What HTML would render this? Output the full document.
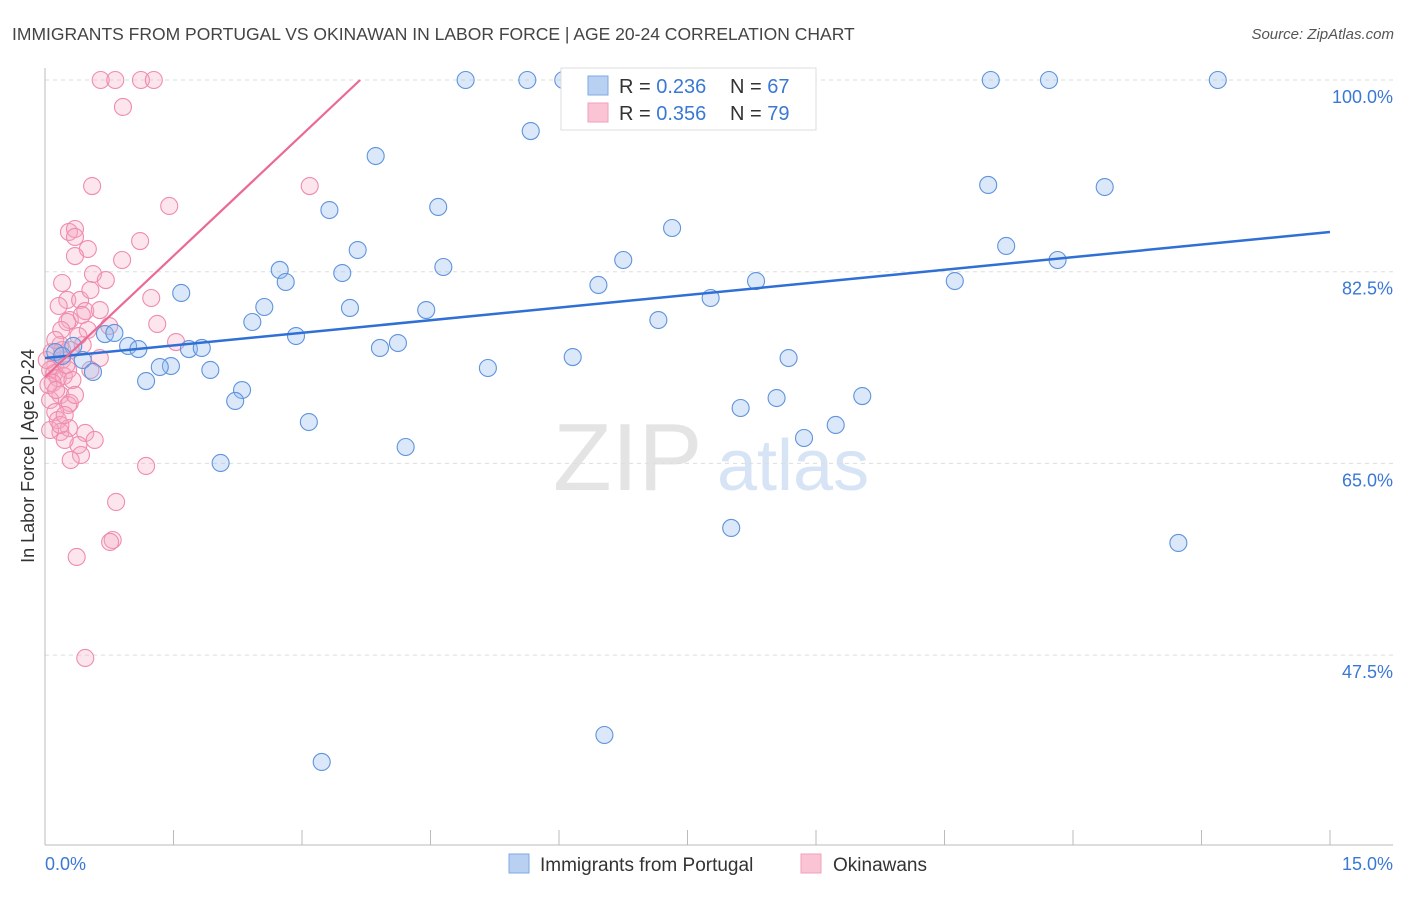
<!DOCTYPE html>
<html><head><meta charset="utf-8"><style>
body{margin:0;background:#fff;font-family:"Liberation Sans",sans-serif}
svg text{font-family:"Liberation Sans",sans-serif}
</style></head><body>
<svg id="chart" width="1406" height="892" xmlns="http://www.w3.org/2000/svg">
<text x="12" y="40" font-size="17.5" fill="#444">IMMIGRANTS FROM PORTUGAL VS OKINAWAN IN LABOR FORCE | AGE 20-24 CORRELATION CHART</text>
<text x="1394" y="39" font-size="15" fill="#555" font-style="italic" text-anchor="end">Source: ZipAtlas.com</text>
<g>
<text x="553" y="490" font-size="96" font-family="Liberation Serif" fill="#e4e4e4">ZIP</text>
<text x="717" y="490" font-size="72" fill="#d6e4f5">atlas</text>
</g>
<g id="grid"></g>
<line x1="45" y1="68" x2="45" y2="845" stroke="#bbb"/>
<line x1="45" y1="845" x2="1393" y2="845" stroke="#bbb"/>
<g id="xticks"></g>
<text transform="translate(34,456) rotate(-90)" font-size="18" fill="#333" text-anchor="middle">In Labor Force | Age 20-24</text>
<text x="45" y="870" font-size="18" fill="#3a78d4">0.0%</text>
<text x="1393" y="870" font-size="18" fill="#3a78d4" text-anchor="end">15.0%</text>
<g id="pts"></g>
<g id="lines"></g>
<g>
<rect x="561" y="68" width="255" height="62" fill="#fff" stroke="#ddd"/>
<rect x="588" y="76" width="20" height="19" fill="#b8d0f2" stroke="#7fa8e0"/>
<text x="619" y="93" font-size="20" fill="#333">R = <tspan fill="#3a78d4">0.236</tspan></text>
<text x="730" y="93" font-size="20" fill="#333">N = <tspan fill="#3a78d4">67</tspan></text>
<rect x="588" y="103" width="20" height="19" fill="#fbc4d4" stroke="#f0a0b8"/>
<text x="619" y="120" font-size="20" fill="#333">R = <tspan fill="#3a78d4">0.356</tspan></text>
<text x="730" y="120" font-size="20" fill="#333">N = <tspan fill="#3a78d4">79</tspan></text>
</g>
<g>
<rect x="509" y="854" width="20" height="19" fill="#b8d0f2" stroke="#7fa8e0"/>
<text x="540" y="871" font-size="19" fill="#333">Immigrants from Portugal</text>
<rect x="801" y="854" width="20" height="19" fill="#fbc4d4" stroke="#f0a0b8"/>
<text x="833" y="871" font-size="19" fill="#333">Okinawans</text>
</g>
</svg>
<script>
const yTicks=[100,82.5,65,47.5];
const yTickLabels=["100.0%","82.5%","65.0%","47.5%"];
const blueX=[4.91,5.63,6.05,6.98,11.04,11.72,13.69,5.67,3.86,11.01,12.37,3.32,4.59,7.32,3.65,11.22,2.74,3.47,4.65,6.75,2.81,11.82,8.30,10.62,6.46,1.59,2.56,3.56,4.45,7.77,2.42,7.16,0.70,0.81,2.93,0.97,1.09,1.68,1.83,3.91,4.12,6.16,8.68,0.33,0.44,1.47,1.34,0.56,1.93,5.17,1.18,2.30,2.22,9.54,8.54,8.12,3.08,9.23,8.86,4.21,2.05,8.01,13.23,6.53,3.23,0.12,0.20];
const blueY=[100,100,100,100,100,100,100,95.34,93.06,90.42,90.23,88.13,88.41,86.49,84.48,84.85,82.66,82.38,82.93,83.57,81.56,83.57,81.65,81.65,81.29,80.56,79.28,79.19,79.00,80.10,77.91,78.09,76.81,76.91,76.63,75.72,75.44,75.44,75.54,75.54,75.99,74.71,74.62,75.72,74.44,73.89,73.80,73.35,73.53,73.71,72.52,71.70,70.70,71.15,70.97,70.06,68.78,68.51,67.32,66.50,65.04,59.11,57.74,40.21,37.75,75.17,74.81];
const pinkX=[0.65,0.82,1.12,1.27,0.91,0.55,3.09,1.45,0.28,0.35,0.35,0.50,1.11,0.35,0.90,0.56,0.20,0.71,0.26,0.41,1.24,0.16,0.47,0.29,0.26,1.31,0.75,0.50,0.19,1.53,0.18,0.44,0.30,0.64,0.12,0.20,0.06,0.11,0.27,0.15,0.53,0.22,0.09,0.18,0.29,0.06,0.27,0.12,0.15,0.47,0.28,0.18,0.58,0.39,0.42,0.30,1.18,0.83,0.79,0.76,0.37,0.47,0.08,0.04,0.13,0.20,0.25,0.32,0.39,0.06,0.23,0.18,0.43,0.53,0.64,0.12,0.02,0.35,0.23];
const pinkY=[100,100,100,100,97.54,90.32,90.32,88.50,86.13,86.40,85.67,84.57,85.30,83.93,83.57,82.29,81.47,81.74,79.92,79.92,80.10,79.37,78.91,78.09,77.91,77.73,77.54,77.18,77.18,76.08,75.81,75.81,75.35,74.62,73.98,74.44,73.53,73.25,73.53,72.80,73.53,72.98,72.34,71.25,70.52,70.79,70.33,69.69,68.96,67.78,68.23,67.87,67.14,66.68,65.77,65.31,64.77,61.48,58.01,57.83,56.46,47.24,75.17,72.16,71.70,75.35,73.98,72.61,76.63,68.05,67.14,68.51,78.55,80.83,79.00,76.27,74.44,71.25,69.42];
const blueTrend=[74.62,86.13];
const pinkTrend=[72.89,7.37];
const NS="http://www.w3.org/2000/svg";
const sx=v=>45+v/15*1285;
const sy=v=>80+(100-v)*10.955;
function mk(t,a,p){const e=document.createElementNS(NS,t);for(const k in a)e.setAttribute(k,a[k]);p.appendChild(e);return e;}
const grid=document.getElementById('grid');
yTicks.forEach((t,i)=>{
 const l=mk('line',{x1:45,x2:1393,y1:sy(t),y2:sy(t),stroke:'#ddd','stroke-dasharray':'4,4'},grid);
 
 
 const tx=mk('text',{x:1393,y:sy(t)+23,'font-size':18,fill:'#3a78d4','text-anchor':'end'},grid);
 tx.textContent=yTickLabels[i];
 
 
});
const xt=document.getElementById('xticks');
for(let i=0;i<=10;i++){
 const x=45+i*128.5;
 const l=mk('line',{x1:x,x2:x,y1:830,y2:845,stroke:'#bbb'},xt);
 
 
}
const pts=document.getElementById('pts');
pinkX.forEach((x,i)=>{
 const c=mk('circle',{cx:sx(x),cy:sy(pinkY[i]),r:8.5,fill:'rgba(246,170,195,0.3)',stroke:'#f08cab','stroke-width':1.1},pts);
 
 
});
blueX.forEach((x,i)=>{
 const c=mk('circle',{cx:sx(x),cy:sy(blueY[i]),r:8.5,fill:'rgba(150,190,240,0.35)',stroke:'#5f93dc','stroke-width':1.1},pts);
 
 
});
const lines=document.getElementById('lines');
const bl=mk('line',{x1:sx(0),y1:sy(blueTrend[0]),x2:sx(15),y2:sy(blueTrend[1]),stroke:'#2f6fd6','stroke-width':2.5},lines);


const pEnd=(100-pinkTrend[0])/pinkTrend[1];
const pl=mk('line',{x1:sx(0),y1:sy(pinkTrend[0]),x2:sx(pEnd),y2:sy(100),stroke:'#ea6a93','stroke-width':2.2},lines);


</script>
</body></html>
